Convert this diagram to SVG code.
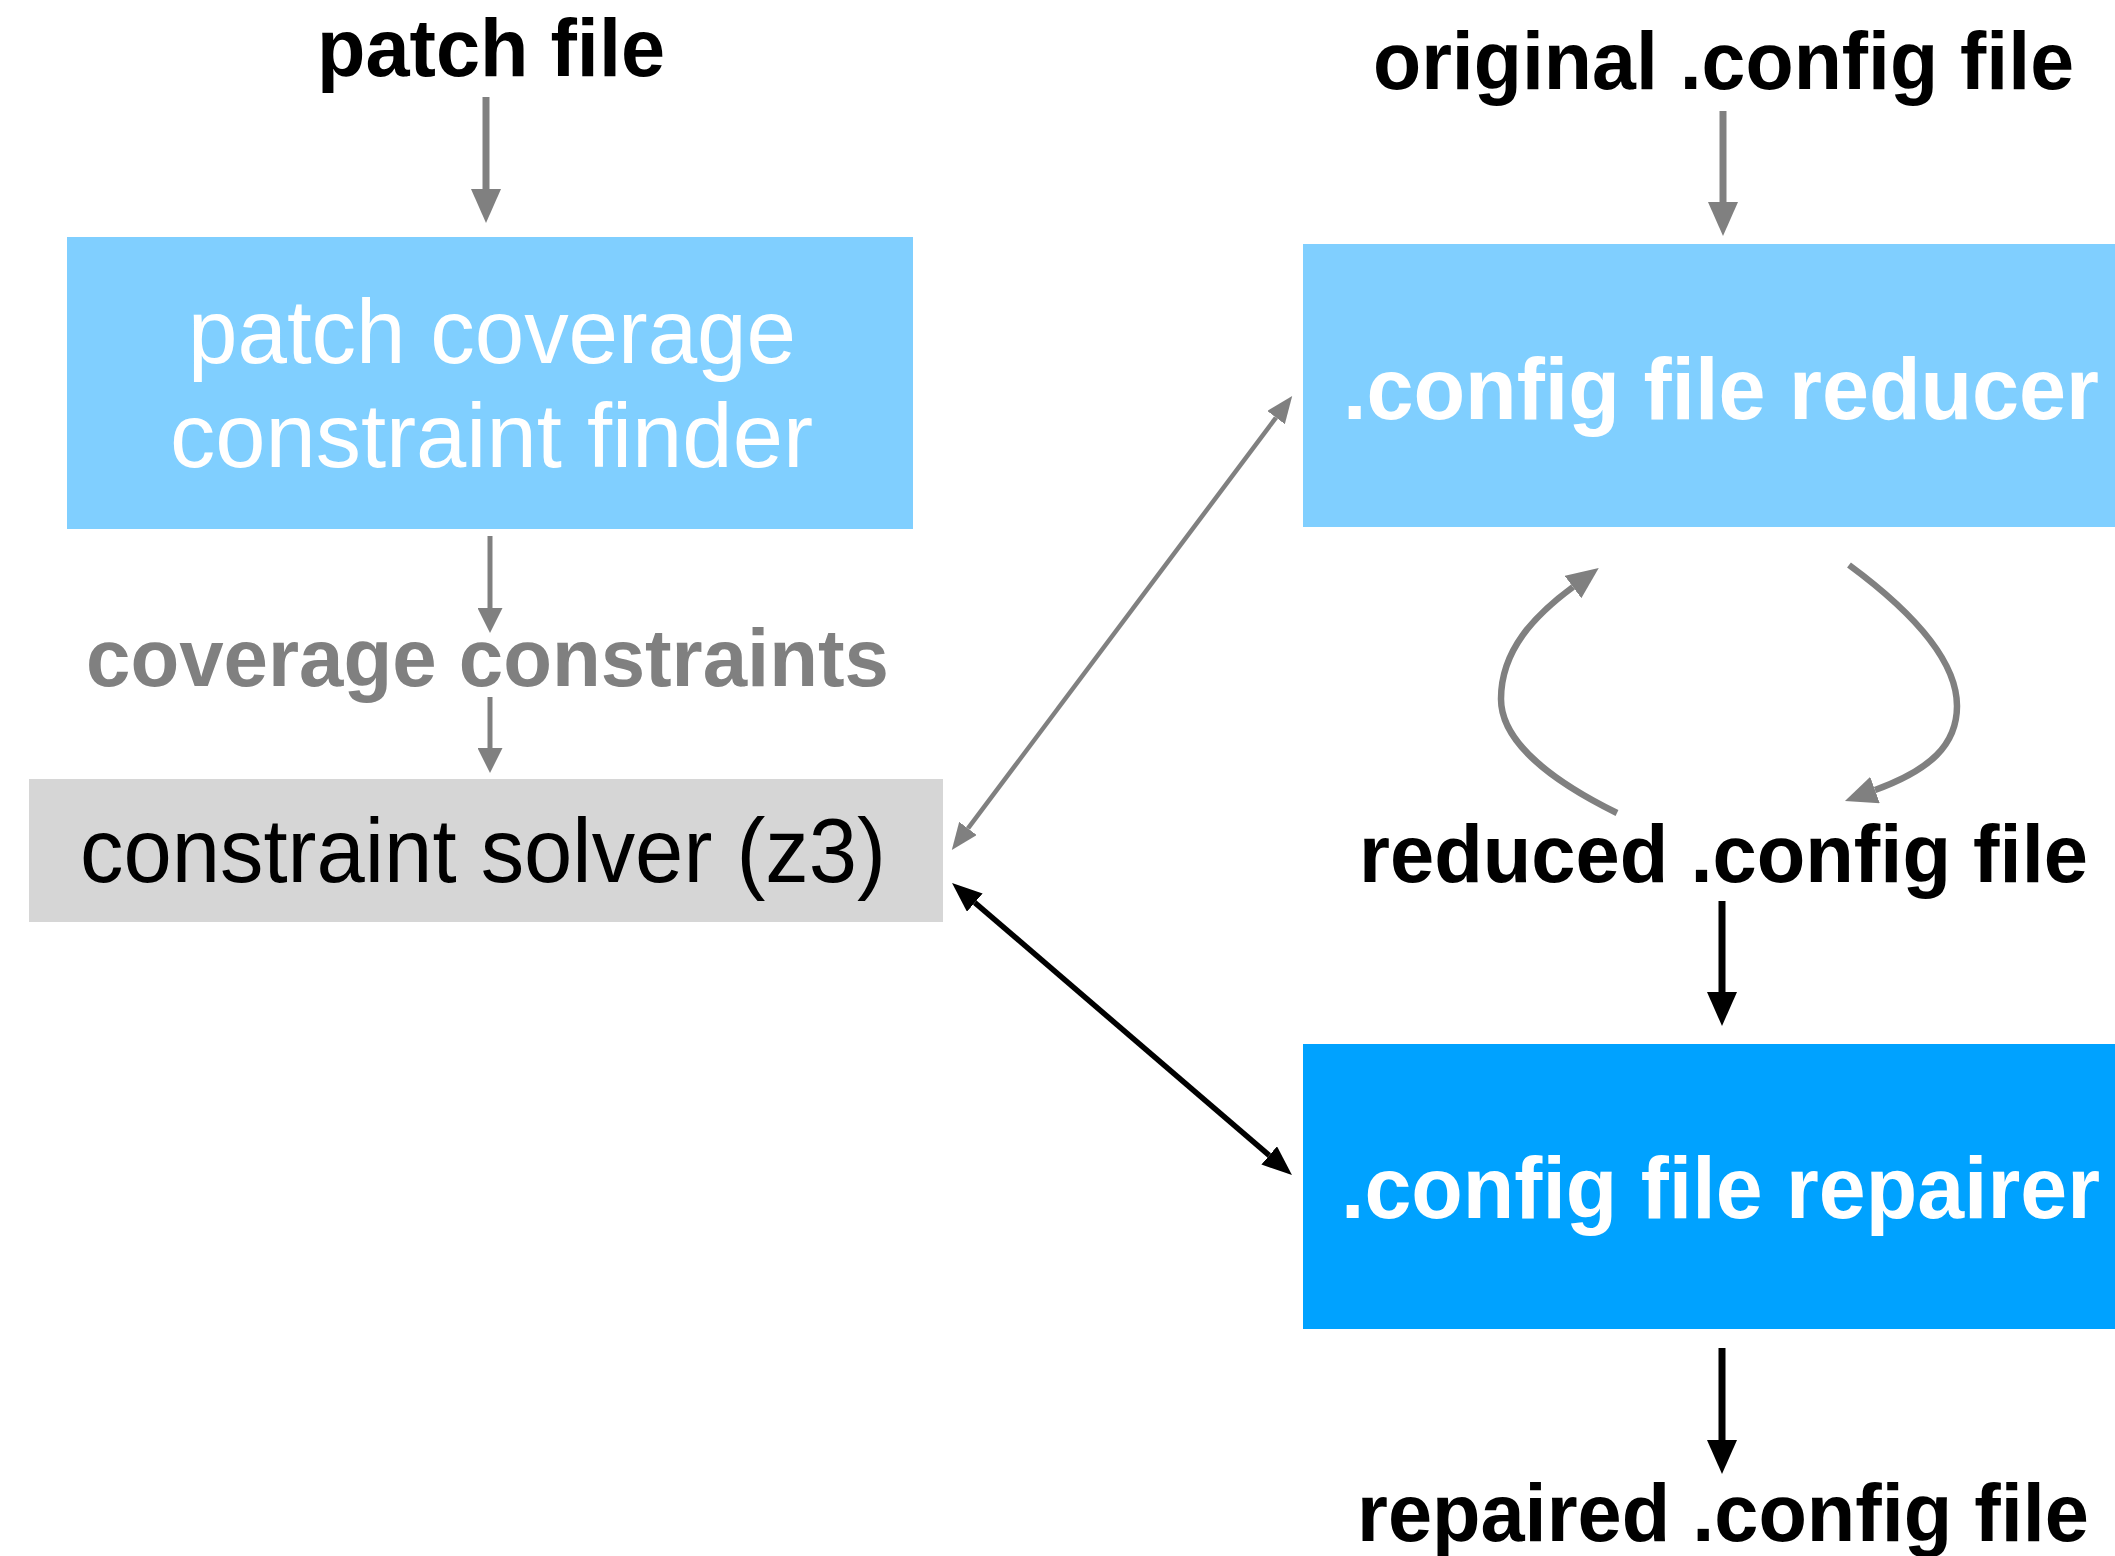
<svg xmlns="http://www.w3.org/2000/svg" width="2115" height="1556" viewBox="0 0 2115 1556">
  <style>
    text { font-family: "Liberation Sans", Arial, Helvetica, sans-serif; }
    .b { font-weight: bold; }
    .lbl { font-size: 82px; fill: #000000; }
    .gray { fill: #808080; }
    .white { fill: #FFFFFF; }
    .reg { font-size: 91px; }
    .boxb { font-size: 87px; font-weight: bold; }
    .ln { fill: none; stroke-linecap: butt; }
    .g6 { stroke: #808080; stroke-width: 7; }
    .g4 { stroke: #808080; stroke-width: 5; }
    .g3 { stroke: #808080; stroke-width: 4.5; }
    .gc { stroke: #808080; stroke-width: 6.5; }
    .k6 { stroke: #000000; stroke-width: 7; }
    .k4 { stroke: #000000; stroke-width: 5.5; }
  </style>
  <defs>
    <marker id="ahG" markerUnits="userSpaceOnUse" markerWidth="34" markerHeight="30" refX="0" refY="15" orient="auto-start-reverse" viewBox="0 0 34 30">
      <path d="M0,0 L34,15 L0,30 Z" fill="#808080"/>
    </marker>
    <marker id="ahK" markerUnits="userSpaceOnUse" markerWidth="34" markerHeight="30" refX="0" refY="15" orient="auto-start-reverse" viewBox="0 0 34 30">
      <path d="M0,0 L34,15 L0,30 Z" fill="#000000"/>
    </marker>
    <marker id="ahGs" markerUnits="userSpaceOnUse" markerWidth="25" markerHeight="25" refX="0" refY="12.5" orient="auto-start-reverse" viewBox="0 0 25 25">
      <path d="M0,0 L25,12.5 L0,25 Z" fill="#808080"/>
    </marker>
    <marker id="ahGt" markerUnits="userSpaceOnUse" markerWidth="27" markerHeight="22" refX="0" refY="11" orient="auto-start-reverse" viewBox="0 0 27 22">
      <path d="M0,0 L27,11 L0,22 Z" fill="#808080"/>
    </marker>
    <marker id="ahKd" markerUnits="userSpaceOnUse" markerWidth="30" markerHeight="24" refX="0" refY="12" orient="auto-start-reverse" viewBox="0 0 30 24">
      <path d="M0,0 L30,12 L0,24 Z" fill="#000000"/>
    </marker>
    <marker id="ahGc" markerUnits="userSpaceOnUse" markerWidth="32" markerHeight="28" refX="0" refY="14" orient="auto" viewBox="0 0 32 28">
      <path d="M0,0 L32,14 L0,28 Z" fill="#808080"/>
    </marker>
  </defs>

  <rect x="0" y="0" width="2115" height="1556" fill="#FFFFFF"/>

  <g id="patch-file">
    <text class="b lbl" x="317" y="76" textLength="348" lengthAdjust="spacingAndGlyphs">patch file</text>
  </g>

  <g id="original-config">
    <text class="b lbl" x="1373" y="89" textLength="701" lengthAdjust="spacingAndGlyphs">original .config file</text>
  </g>

  <g id="constraint-finder">
    <rect x="67" y="237" width="846" height="292" fill="#80CFFF"/>
    <text class="reg white" x="188" y="363" textLength="608" lengthAdjust="spacingAndGlyphs">patch coverage</text>
    <text class="reg white" x="170" y="467" textLength="643" lengthAdjust="spacingAndGlyphs">constraint finder</text>
  </g>

  <g id="coverage-constraints">
    <text class="b gray" font-size="82" x="86" y="686" textLength="803" lengthAdjust="spacingAndGlyphs">coverage constraints</text>
  </g>

  <g id="constraint-solver">
    <rect x="29" y="779" width="914" height="143" fill="#D6D6D6"/>
    <text class="reg" fill="#000000" x="80" y="882" textLength="806" lengthAdjust="spacingAndGlyphs">constraint solver (z3)</text>
  </g>

  <g id="config-reducer">
    <rect x="1303" y="244" width="812" height="283" fill="#80CFFF"/>
    <text class="boxb white" x="1343" y="419" textLength="756" lengthAdjust="spacingAndGlyphs">.config file reducer</text>
  </g>

  <g id="reduced-config">
    <text class="b lbl" x="1359" y="882" textLength="729" lengthAdjust="spacingAndGlyphs">reduced .config file</text>
  </g>

  <g id="config-repairer">
    <rect x="1303" y="1044" width="812" height="285" fill="#00A2FF"/>
    <text class="boxb white" x="1341" y="1218" textLength="759" lengthAdjust="spacingAndGlyphs">.config file repairer</text>
  </g>

  <g id="repaired-config">
    <text class="b lbl" x="1357" y="1541" textLength="732" lengthAdjust="spacingAndGlyphs">repaired .config file</text>
  </g>

  <g id="connectors">
    <line class="ln g6" x1="486" y1="97" x2="486" y2="189" marker-end="url(#ahG)"/>
    <line class="ln g6" x1="1723" y1="111" x2="1723" y2="202" marker-end="url(#ahG)"/>
    <line class="ln g4" x1="490" y1="536" x2="490" y2="608" marker-end="url(#ahGs)"/>
    <line class="ln g4" x1="490" y1="697" x2="490" y2="748" marker-end="url(#ahGs)"/>
    <line class="ln k6" x1="1722" y1="901" x2="1722" y2="992" marker-end="url(#ahK)"/>
    <line class="ln k6" x1="1722" y1="1348" x2="1722" y2="1440" marker-end="url(#ahK)"/>
    <line class="ln g3" x1="968" y1="828.4" x2="1276" y2="417.6" marker-start="url(#ahGt)" marker-end="url(#ahGt)"/>
    <line class="ln k4" x1="974.8" y1="902.6" x2="1269.2" y2="1155.4" marker-start="url(#ahKd)" marker-end="url(#ahKd)"/>
    <path class="ln gc" d="M1617,813 C1560,785 1501,745 1501,699 C1501,650 1535,615 1573,587" marker-end="url(#ahGc)"/>
    <path class="ln gc" d="M1849,565 C1910,610 1957,660 1957,706 C1957,745 1930,770 1875,790" marker-end="url(#ahGc)"/>
  </g>
</svg>
